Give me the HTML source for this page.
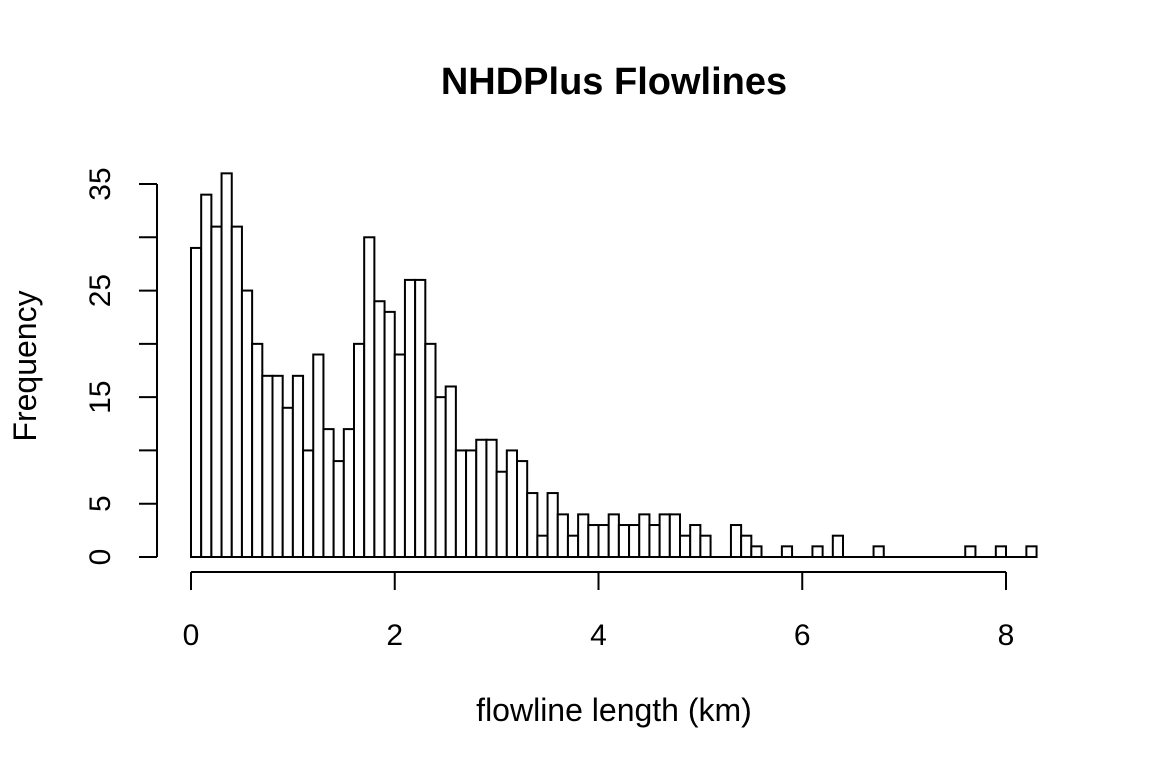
<!DOCTYPE html>
<html><head><meta charset="utf-8"><style>
body{margin:0;background:#fff}
svg text{font-family:"Liberation Sans",Arial,sans-serif;fill:#000}
</style></head><body>
<svg id="chart" width="1152" height="768" xmlns="http://www.w3.org/2000/svg">
<rect width="1152" height="768" fill="#fff"/>
<text x="614" y="94" font-size="38" font-weight="bold" text-anchor="middle">NHDPlus Flowlines</text>
<text x="614" y="721" font-size="32" text-anchor="middle">flowline length (km)</text>
<text transform="translate(36,366) rotate(-90)" font-size="32" text-anchor="middle">Frequency</text>
<g id="bars"></g><g id="axes" stroke="#000" stroke-width="2" fill="none"></g><g id="labels"></g>
</svg>
<script>
const binWidth = 0.1;
const counts = [29,34,31,36,31,25,20,17,17,14,17,10,19,12,9,12,20,30,24,23,19,26,26,20,15,16,10,10,11,11,8,10,9,6,2,6,4,2,4,3,3,4,3,3,4,3,4,4,2,3,2,0,0,3,2,1,0,0,1,0,0,1,0,2,0,0,0,1,0,0,0,0,0,0,0,0,1,0,0,1,0,0,1];
const xTicks = [0,2,4,6,8];
const yTicks = [0,5,10,15,20,25,30,35];
const yTickLabels = ["0","5","","15","","25","","35"];

const NS="http://www.w3.org/2000/svg";
const xs=v=>191+v*(1006-191)/8;
const ys=v=>557-v*(557-184)/35;
function mk(t,a,p){const e=document.createElementNS(NS,t);for(const k in a)e.setAttribute(k,a[k]);p.appendChild(e);return e;}
const bars=document.getElementById('bars'),axes=document.getElementById('axes'),labels=document.getElementById('labels');
const base=mk('line',{x1:xs(0),x2:xs(counts.length*binWidth),y1:ys(0),y2:ys(0),stroke:'#000','stroke-width':2},bars);


counts.forEach((c,i)=>{
  const x0=xs(i*binWidth),x1=xs((i+1)*binWidth);
  const r=mk('rect',{x:x0,y:ys(c),width:x1-x0,height:ys(0)-ys(c),fill:'#fff',stroke:'#000','stroke-width':2},bars);
  
  
});
const xa=mk('line',{x1:xs(xTicks[0]),x2:xs(xTicks[xTicks.length-1]),y1:572,y2:572},axes);


xTicks.forEach(v=>{
  mk('line',{x1:xs(v),x2:xs(v),y1:572,y2:590},axes);
  const t=mk('text',{x:xs(v),y:645,'font-size':30,'text-anchor':'middle'},labels);
  t.textContent=v;
  
  
});
const ya=mk('line',{x1:157,x2:157,y1:ys(yTicks[0]),y2:ys(yTicks[yTicks.length-1])},axes);


yTicks.forEach((v,i)=>{
  mk('line',{x1:139,x2:157,y1:ys(v),y2:ys(v)},axes);
  if(yTickLabels[i]){
    const t=mk('text',{transform:`translate(110,${ys(v)}) rotate(-90)`,'font-size':30,'text-anchor':'middle'},labels);
    t.textContent=yTickLabels[i];
    
    
  }
});
</script>
</body></html>
